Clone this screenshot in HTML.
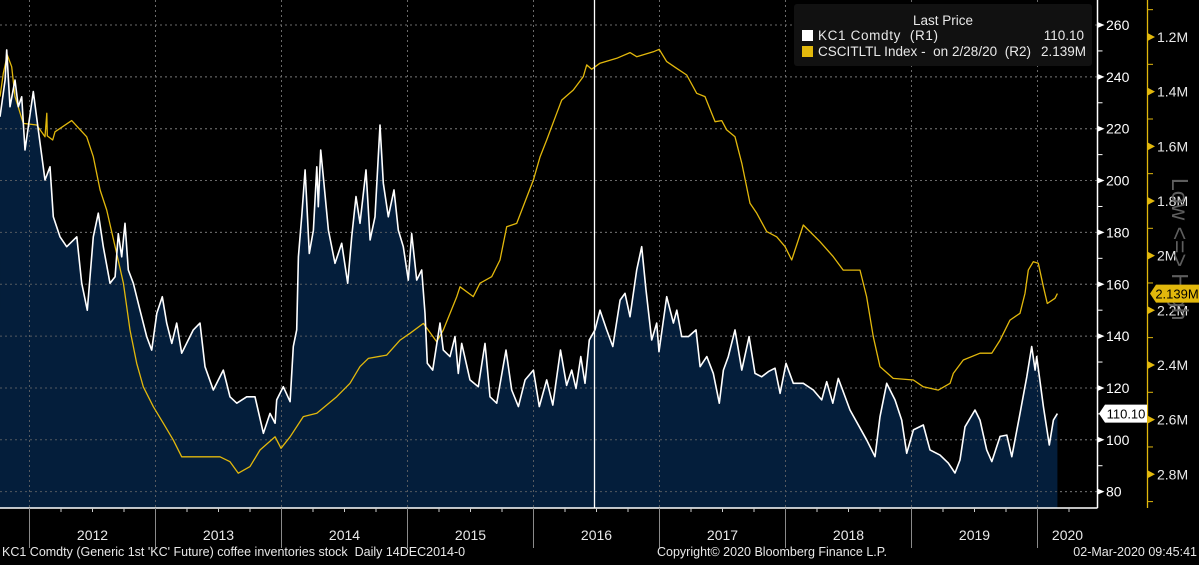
<!DOCTYPE html>
<html><head><meta charset="utf-8">
<style>
html,body{margin:0;padding:0;background:#000;}
body{width:1199px;height:560px;overflow:hidden;position:relative;font-family:"Liberation Sans",sans-serif;}
svg text{font-family:"Liberation Sans",sans-serif;white-space:pre;}
</style></head>
<body>
<svg id="chart" width="1199" height="560" xmlns="http://www.w3.org/2000/svg"></svg>
<script>
// KC1 Comdty (R1) dates (decimal years) and prices
const kcDates=[2011.766,2011.806,2011.819,2011.845,2011.885,2011.911,2011.938,2011.964,2012.030,2012.070,2012.123,2012.163,2012.189,2012.242,2012.295,2012.375,2012.414,2012.459,2012.506,2012.546,2012.586,2012.639,2012.679,2012.705,2012.732,2012.758,2012.784,2012.824,2012.877,2012.930,2012.970,2013.010,2013.054,2013.089,2013.129,2013.168,2013.208,2013.300,2013.353,2013.393,2013.459,2013.538,2013.591,2013.645,2013.724,2013.790,2013.856,2013.909,2013.949,2013.962,2014.014,2014.068,2014.094,2014.121,2014.134,2014.160,2014.187,2014.221,2014.253,2014.280,2014.292,2014.311,2014.332,2014.372,2014.425,2014.478,2014.525,2014.557,2014.591,2014.623,2014.671,2014.703,2014.742,2014.782,2014.808,2014.848,2014.893,2014.927,2014.967,2015.006,2015.033,2015.073,2015.113,2015.139,2015.157,2015.200,2015.258,2015.284,2015.337,2015.377,2015.403,2015.430,2015.496,2015.562,2015.615,2015.655,2015.708,2015.782,2015.827,2015.880,2015.933,2015.999,2016.046,2016.105,2016.153,2016.214,2016.263,2016.303,2016.337,2016.375,2016.409,2016.443,2016.488,2016.528,2016.581,2016.629,2016.687,2016.726,2016.766,2016.819,2016.859,2016.893,2016.938,2016.978,2016.996,2017.057,2017.110,2017.137,2017.176,2017.229,2017.290,2017.322,2017.375,2017.427,2017.475,2017.507,2017.546,2017.599,2017.653,2017.711,2017.758,2017.811,2017.864,2017.917,2017.957,2018.004,2018.062,2018.141,2018.221,2018.287,2018.327,2018.375,2018.419,2018.512,2018.644,2018.710,2018.750,2018.803,2018.869,2018.922,2018.962,2019.015,2019.094,2019.147,2019.226,2019.292,2019.345,2019.385,2019.425,2019.504,2019.544,2019.597,2019.637,2019.703,2019.756,2019.796,2019.856,2019.915,2019.954,2019.981,2019.994,2020.047,2020.094,2020.126,2020.158];
const kcValues=[224.6,238.8,250.4,228.5,238.8,228.5,232.3,211.8,234.3,219.5,200.2,205.3,186,178.3,174.5,178.3,160.4,150,178.3,187.4,174.5,160.4,162.9,179.5,170.6,183.5,165.5,160.4,150,139.8,134.6,148.8,155.2,145,137.2,145,133.4,142.4,145,128.2,119.2,126.9,116.6,114.1,116.6,116.6,102.5,110.2,106.4,115.4,120.5,114.7,136,142.4,170.6,186,204.1,171.9,180.9,205.3,189.9,211.8,201.5,180.9,168.1,175.8,160.4,178.3,193.8,183.5,204.1,177.1,186,221.4,199,186,196.4,180.9,174.5,161.6,179.5,161.6,165.5,148.8,129.5,126.9,145,134.6,132.1,139.8,125.6,137.2,123.1,120.5,137.2,116.6,114.1,134.6,119.2,112.8,123.1,126.9,112.8,123.1,113.4,134.6,121,126.9,119.8,132.1,121.8,138.5,142.4,150,142.4,136,153.9,156.5,147.5,165.5,174.5,157.8,138.5,145,134,155.2,145,150,139.8,139.8,142.4,128.2,132.1,125.6,114.1,126.9,132.1,142.4,126.9,139.8,125.6,124.3,126.3,127.6,117.9,129.5,121.8,121.8,119.2,115.4,122.4,114.1,123.7,111.5,100,93.5,108.9,121.8,115.4,107.6,94.8,103.8,105.7,96.1,94.1,91,87.2,92.2,105,111.5,107.6,96.1,91.6,101.3,101.8,93.5,108.9,124.3,136,126.9,132.1,112.8,98,107.6,110.1];
// CSCITLTL Index (R2, millions, inverted axis)
const cscDates=[2011.766,2011.792,2011.824,2011.859,2011.885,2011.951,2012.057,2012.123,2012.137,2012.141,2012.184,2012.202,2012.335,2012.454,2012.506,2012.560,2012.613,2012.679,2012.745,2012.798,2012.851,2012.903,2012.983,2013.062,2013.141,2013.208,2013.353,2013.512,2013.591,2013.657,2013.750,2013.829,2013.949,2013.996,2014.068,2014.173,2014.280,2014.438,2014.544,2014.623,2014.689,2014.835,2014.941,2015.020,2015.126,2015.232,2015.284,2015.391,2015.417,2015.522,2015.575,2015.668,2015.734,2015.787,2015.867,2015.999,2016.052,2016.105,2016.184,2016.224,2016.316,2016.395,2016.422,2016.462,2016.528,2016.660,2016.766,2016.819,2016.951,2016.998,2017.057,2017.137,2017.216,2017.295,2017.361,2017.441,2017.494,2017.533,2017.599,2017.653,2017.718,2017.772,2017.851,2017.930,2017.996,2018.049,2018.141,2018.274,2018.379,2018.458,2018.591,2018.644,2018.697,2018.750,2018.855,2019.015,2019.094,2019.213,2019.306,2019.332,2019.411,2019.544,2019.637,2019.703,2019.782,2019.861,2019.901,2019.927,2019.967,2020.006,2020.047,2020.078,2020.139,2020.158];
const cscValues=[1.418,1.333,1.266,1.309,1.418,1.516,1.522,1.565,1.479,1.562,1.577,1.547,1.506,1.565,1.638,1.760,1.833,1.967,2.101,2.272,2.394,2.480,2.553,2.613,2.675,2.736,2.736,2.736,2.754,2.796,2.772,2.711,2.663,2.705,2.663,2.589,2.577,2.516,2.467,2.406,2.376,2.364,2.309,2.284,2.248,2.315,2.272,2.150,2.114,2.150,2.101,2.077,2.016,1.894,1.882,1.723,1.638,1.577,1.479,1.431,1.394,1.345,1.302,1.318,1.296,1.278,1.257,1.272,1.254,1.245,1.290,1.315,1.339,1.406,1.418,1.510,1.506,1.540,1.565,1.662,1.808,1.845,1.912,1.931,1.967,2.016,1.888,1.949,2.004,2.053,2.053,2.150,2.297,2.406,2.449,2.455,2.480,2.492,2.467,2.431,2.382,2.357,2.357,2.309,2.236,2.211,2.138,2.053,2.022,2.028,2.114,2.175,2.156,2.139];
const r1Ticks=[80,100,120,140,160,180,200,220,240,260];
const r2Ticks=[1.2,1.4,1.6,1.8,2.0,2.2,2.4,2.6,2.8];
const r2Labels=["1.2M","1.4M","1.6M","1.8M","2M","2.2M","2.4M","2.6M","2.8M"];
const years=[2012,2013,2014,2015,2016,2017,2018,2019,2020];

const NS="http://www.w3.org/2000/svg";
const svg=document.getElementById('chart');
const PR=1097.5, PB=508;
function xOf(t){return 29.5+(t-2012)*126;}
function y1(v){return 25+(260-v)*51.85/20;}
function y2(m){return 37+(m-1.2)/0.2*54.66;}
function mk(tag,attrs,parent){const e=document.createElementNS(NS,tag);for(const k in attrs)e.setAttribute(k,attrs[k]);(parent||svg).appendChild(e);return e;}

// grid
const grid=mk('g',{});


r1Ticks.forEach(v=>{const l=mk('line',{x1:0,x2:PR,y1:y1(v),y2:y1(v),stroke:'#6a6a6a','stroke-dasharray':'2,3','stroke-width':1},grid);

});
years.forEach(y=>{const l=mk('line',{x1:xOf(y),x2:xOf(y),y1:0,y2:PB,stroke:'#6a6a6a','stroke-dasharray':'2,3','stroke-width':1},grid);

});

// KC area
let d='M'+xOf(kcDates[0])+','+PB;
kcDates.forEach((t,i)=>{d+=' L'+xOf(t).toFixed(1)+','+y1(kcValues[i]).toFixed(1);});
d+=' L'+xOf(kcDates[kcDates.length-1]).toFixed(1)+','+PB+' Z';
const area=mk('path',{d:d,fill:'#041e3b'});


const grid2=grid.cloneNode(true);svg.appendChild(grid2);grid2.setAttribute('opacity','0.8');



// CSC line
let d2='';cscDates.forEach((t,i)=>{d2+=(i?' L':'M')+xOf(t).toFixed(1)+','+y2(cscValues[i]).toFixed(1);});
const csc=mk('path',{d:d2,fill:'none',stroke:'#e2b80c','stroke-width':1.3,'stroke-linejoin':'round'});



// KC line
let d3='';kcDates.forEach((t,i)=>{d3+=(i?' L':'M')+xOf(t).toFixed(1)+','+y1(kcValues[i]).toFixed(1);});
const kc=mk('path',{d:d3,fill:'none',stroke:'#ffffff','stroke-width':1.6,'stroke-linejoin':'round'});



// cursor line
const cur=mk('line',{x1:594.5,x2:594.5,y1:0,y2:PB,stroke:'#fff','stroke-width':1.3});



// axes lines
const ax=mk('line',{x1:0,x2:PR,y1:PB,y2:PB,stroke:'#fff','stroke-width':1.5});


const ay=mk('line',{x1:PR,x2:PR,y1:0,y2:PB,stroke:'#fff','stroke-width':1.5});


const ay2=mk('line',{x1:1147.5,x2:1147.5,y1:0,y2:PB,stroke:'#e2b80c','stroke-width':1.3});



// R1 ticks
r1Ticks.forEach(v=>{const y=y1(v);
 const p=mk('path',{d:`M${PR},${y-3} L${PR+7},${y} L${PR},${y+3} Z`,fill:'#fff'});
 
 
 const m=mk('line',{x1:PR,x2:PR+5,y1:y1(v+10),y2:y1(v+10),stroke:'#fff'});
 
 
 const t=mk('text',{x:1106,y:y+5,fill:'#fff','font-size':14});t.textContent=v;
 
 });
// R2 ticks
r2Ticks.forEach((v,i)=>{const y=y2(v);
 const p=mk('path',{d:`M1147.5,${y-4} L1155,${y} L1147.5,${y+4} Z`,fill:'#e2b80c'});
 
 
 const m=mk('line',{x1:1147.5,x2:1153,y1:y2(v-0.1),y2:y2(v-0.1),stroke:'#e2b80c'});
 
 
 const t=mk('text',{x:1157,y:y+5,fill:'#e8e8e8','font-size':14});t.textContent=r2Labels[i];
 
 });
const m0=mk('line',{x1:1147.5,x2:1153,y1:y2(2.9),y2:y2(2.9),stroke:'#e2b80c'});



// Low <=> High
const lh=mk('text',{x:0,y:0,fill:'#5e5e5e','font-size':23,transform:'translate(1172,178) rotate(90)'});lh.textContent='Low <=> High';



// value badges
const lastKC=kcValues[kcValues.length-1], lastCSC=cscValues[cscValues.length-1];
const yb=y1(lastKC);
const b1=mk('path',{d:`M1099,${yb} L1105,${yb-9} L1147,${yb-9} L1147,${yb+9} L1105,${yb+9} Z`,fill:'#fff'});


const bt1=mk('text',{x:1126,y:yb+5,fill:'#000','font-size':13,'text-anchor':'middle'});bt1.textContent=lastKC.toFixed(2);


const yc=y2(lastCSC);
const b2=mk('path',{d:`M1150,${yc} L1156,${yc-9} L1199,${yc-9} L1199,${yc+9} L1156,${yc+9} Z`,fill:'#e2b80c'});


const bt2=mk('text',{x:1177,y:yc+5,fill:'#000','font-size':13,'text-anchor':'middle'});bt2.textContent=lastCSC.toFixed(3)+'M';



// x axis ticks & labels
years.forEach(y=>{const x=xOf(y);
 const l=mk('line',{x1:x,x2:x,y1:PB,y2:548,stroke:'#8a8a8a','stroke-width':1});
 
 
 [0.25,0.5,0.75].forEach(q=>{const xx=xOf(y+q); if(xx<PR){const m=mk('line',{x1:xx,x2:xx,y1:PB,y2:PB+4,stroke:'#ccc'});
 
 }});
 const cx=y<2020?xOf(y+0.5):(xOf(2020)+PR)/2;
 const t=mk('text',{x:cx,y:540,fill:'#e8e8e8','font-size':14,'text-anchor':'middle'});t.textContent=y;
 
 });
[2011.75].forEach(q=>{const m=mk('line',{x1:xOf(q)+1,x2:xOf(q)+1,y1:PB,y2:PB+4,stroke:'#ccc'});
 
 });

// footer
const f1=mk('text',{x:2,y:556,fill:'#e8e8e8','font-size':12.5});f1.textContent="KC1 Comdty (Generic 1st 'KC' Future) coffee inventories stock  Daily 14DEC2014-0";


const f2=mk('text',{x:657,y:556,fill:'#e8e8e8','font-size':12.5});f2.textContent="Copyright© 2020 Bloomberg Finance L.P.";


const f3=mk('text',{x:1197,y:556,fill:'#e8e8e8','font-size':12.5,'text-anchor':'end'});f3.textContent="02-Mar-2020 09:45:41";



// legend
const lg=mk('g',{});


mk('rect',{x:794,y:4,width:298,height:62,rx:3,fill:'#111111'},lg);
const lt=mk('text',{x:943,y:25,fill:'#e8e8e8','font-size':13.5,'text-anchor':'middle'},lg);lt.textContent='Last Price';


const s1=mk('rect',{x:802,y:30,width:11,height:11,fill:'#fff'},lg);


const l1=mk('text',{x:818,y:40,fill:'#e8e8e8','font-size':13.5,textLength:120},lg);l1.textContent='KC1 Comdty  (R1)';


const v1=mk('text',{x:1084,y:40,fill:'#e8e8e8','font-size':13.5,'text-anchor':'end'},lg);v1.textContent='110.10';


const s2=mk('rect',{x:802,y:46,width:11,height:11,fill:'#e2b80c'},lg);


const l2=mk('text',{x:818,y:56,fill:'#e8e8e8','font-size':13.5,textLength:213},lg);l2.textContent='CSCITLTL Index -  on 2/28/20  (R2)';


const v2=mk('text',{x:1086,y:56,fill:'#e8e8e8','font-size':13.5,'text-anchor':'end'},lg);v2.textContent='2.139M';


</script>
</body></html>
